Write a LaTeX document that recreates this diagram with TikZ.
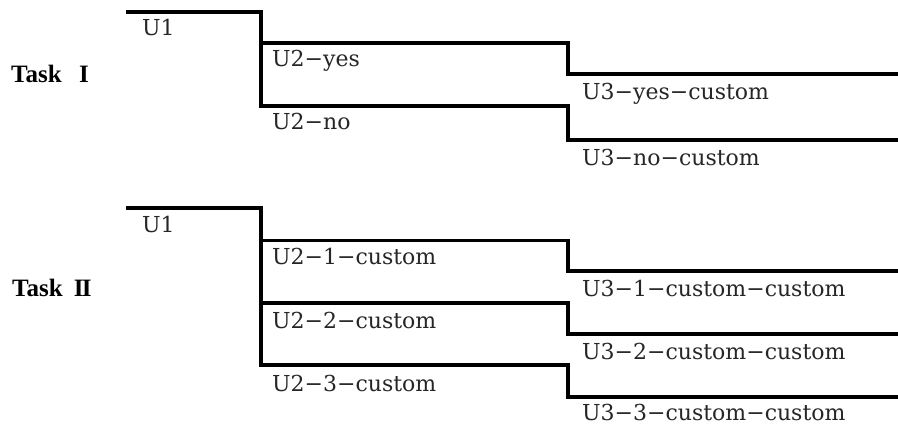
\documentclass[tikz,border=0pt]{standalone}
\usepackage{fontspec}
\setmainfont{DejaVu Serif}
\newfontfamily\taskfont{Liberation Serif}
\begin{document}
\begin{tikzpicture}[x=1pt,y=-1pt,
  wire/.style={line width=3.8pt,line join=miter,line cap=butt},
  lbl/.style={anchor=base west,inner sep=0pt,font=\fontsize{22}{24}\selectfont,text=black!85},
  tasklbl/.style={anchor=base west,inner sep=0pt,font=\fontsize{25}{27}\taskfont\bfseries\selectfont}]
\useasboundingbox[fill=white] (0,0) rectangle (898,425);
% Task I
\coordinate (a0) at (126,12);
\coordinate (a1) at (261,12);
\coordinate (a2) at (261,43);
\coordinate (a3) at (261,106);
\coordinate (a4) at (568,43);
\coordinate (a5) at (568,74);
\coordinate (a6) at (898,74);
\coordinate (a7) at (568,106);
\coordinate (a8) at (568,140);
\coordinate (a9) at (898,140);
\draw[wire] (a0) -- (a1) -- (a3) -- (a7) -- (a8) -- (a9);
\draw[wire] (a2) -- (a4) -- (a5) -- (a6);
\node[tasklbl] (t1) at (11,82.5) {Task\hspace{0.7em}I};
\node[lbl] (u1a) at (142,36) {U1};
\node[lbl] (u2y) at (272,67) {U2−yes};
\node[lbl] (u2n) at (272,130) {U2−no};
\node[lbl] (u3y) at (582,99.5) {U3−yes−custom};
\node[lbl] (u3n) at (582,166) {U3−no−custom};
% Task II
\coordinate (b0) at (126,208);
\coordinate (b1) at (261,208);
\coordinate (b2) at (261,240.5);
\coordinate (b3) at (261,303.3);
\coordinate (b4) at (261,365);
\coordinate (c2) at (568,240.5);
\coordinate (c3) at (568,303.3);
\coordinate (c4) at (568,365);
\coordinate (d2) at (568,271);
\coordinate (d3) at (568,334);
\coordinate (d4) at (568,397);
\coordinate (e2) at (898,271);
\coordinate (e3) at (898,334);
\coordinate (e4) at (898,397);
\draw[wire] (b0) -- (b1) -- (b4) -- (c4) -- (d4) -- (e4);
\draw[wire] (b2) -- (c2) -- (d2) -- (e2);
\draw[wire] (b3) -- (c3) -- (d3) -- (e3);
\node[tasklbl] (t2) at (12,296.5) {Task\hspace{0.45em}I\kern-0.07em I};
\node[lbl] (u1b) at (142,233) {U1};
\node[lbl] (u21) at (272,265) {U2−1−custom};
\node[lbl] (u22) at (272,328) {U2−2−custom};
\node[lbl] (u23) at (272,391) {U2−3−custom};
\node[lbl] (u31) at (582,296.7) {U3−1−custom−custom};
\node[lbl] (u32) at (582,359) {U3−2−custom−custom};
\node[lbl] (u33) at (582,420) {U3−3−custom−custom};
\end{tikzpicture}
\end{document}
